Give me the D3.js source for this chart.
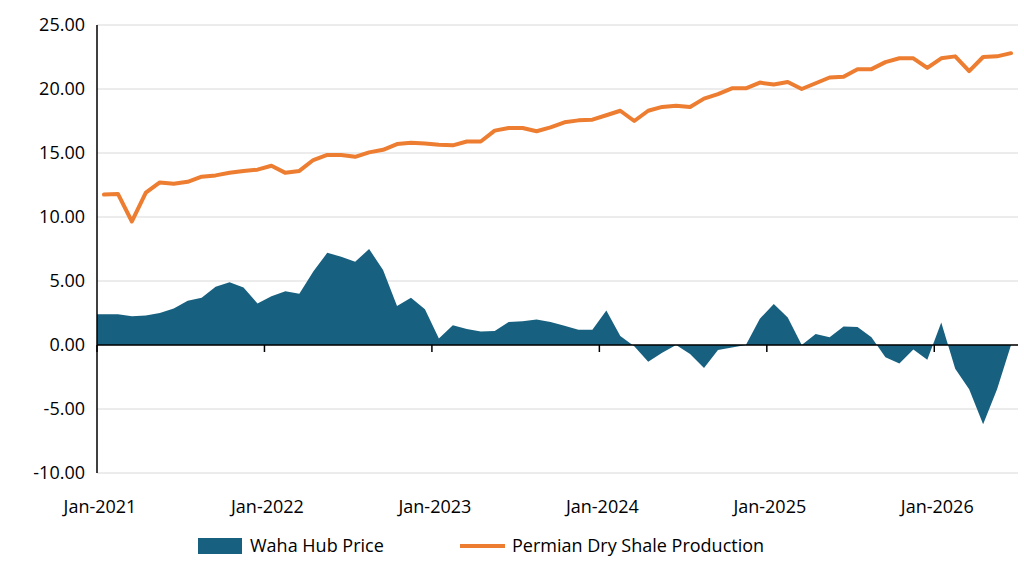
<!DOCTYPE html>
<html>
<head>
<meta charset="utf-8">
<script src="https://d3js.org/d3.v7.min.js"></script>
<style>
  body { margin: 0; background: #fff; font-family: "Open Sans", "Liberation Sans", sans-serif; }
</style>
</head>
<body>
<div id="chart"></div>
<script>
// monthly categories Jan-2021 .. Jun-2026
var months = [];
for (var y = 2021; y <= 2026; y++) {
    for (var m = 0; m < 12; m++) {
        if (y === 2026 && m > 5) break;
        months.push(new Date(y, m, 1));
    }
}

var wahaPrice = [
    2.4, 2.4, 2.25, 2.3, 2.5, 2.85, 3.45, 3.7, 4.55, 4.9, 4.5, 3.25,
    3.8, 4.2, 4.0, 5.75, 7.2, 6.9, 6.5, 7.5, 5.85, 3.05, 3.7, 2.8,
    0.5, 1.55, 1.25, 1.05, 1.1, 1.8, 1.85, 2.0, 1.8, 1.5, 1.2, 1.2,
    2.7, 0.7, -0.1, -1.3, -0.6, 0.0, -0.7, -1.8, -0.4, -0.2, 0.0, 2.05,
    3.2, 2.15, 0.0, 0.85, 0.6, 1.45, 1.4, 0.6, -0.95, -1.45, -0.35, -1.15,
    1.75, -1.85, -3.45, -6.2, -3.45, 0.0
];

var permianProd = [
    11.75, 9.65, 11.9, 12.7, 12.6, 12.75, 13.15, 13.25, 13.45, 13.6, 13.7, 14.0,
    13.45, 13.6, 14.45, 14.85, 14.85, 14.7, 15.05, 15.25, 15.7, 15.8, 15.75, 15.65,
    15.6, 15.9, 15.9, 16.75, 16.95, 16.95, 16.7, 17.0, 17.4, 17.55, 17.6, 17.95,
    18.3, 17.5, 18.3, 18.6, 18.7, 18.6, 19.25, 19.6, 20.05, 20.05, 20.5, 20.35,
    20.55, 20.0, 20.45, 20.9, 20.95, 21.55, 21.55, 22.1, 22.4, 22.4, 21.65, 22.4,
    22.55, 21.4, 22.5, 22.55, 22.8, 22.85
];
// fix: first orange point is Jan-2021 (11.75), Feb-2021 dip (9.65)
permianProd = [11.8].concat(permianProd.slice(0, permianProd.length - 1));
permianProd[0] = 11.75; permianProd[1] = 11.8; permianProd[2] = 9.65;

var yTicks = [25, 20, 15, 10, 5, 0, -5, -10];

var svgWidth = 1024, svgHeight = 569;
var margin = { top: 25, right: 6, bottom: 96, left: 97 };
var width = svgWidth - margin.left - margin.right;
var height = svgHeight - margin.top - margin.bottom;

var svg = d3.select("#chart").append("svg")
    .attr("width", svgWidth)
    .attr("height", svgHeight);

var g = svg.append("g")
    .attr("transform", `translate(${margin.left}, ${margin.top})`);

var x = d3.scaleBand().domain(months.map(String)).range([0, width]);
var y = d3.scaleLinear().domain([-10, 25]).range([height, 0]);
var cx = function (i) { return x(String(months[i])) + x.bandwidth() / 2; };

// gridlines
g.selectAll("line.grid").data(yTicks).enter().append("line")
    .attr("x1", 0).attr("x2", width)
    .attr("y1", d => y(d)).attr("y2", d => y(d))
    .attr("stroke", "#d9d9d9").attr("stroke-width", 1);

// area
var areaPts = wahaPrice.map((v, i) => [cx(i), v]);
areaPts.unshift([0, wahaPrice[0]]);
var area = d3.area().x(d => d[0]).y0(y(0)).y1(d => y(d[1]));
g.append("path").datum(areaPts)
    .attr("d", area).attr("fill", "#17607f");

// line
var line = d3.line().x((d, i) => cx(i)).y(d => y(d));
g.append("path").datum(permianProd)
    .attr("d", line).attr("fill", "none")
    .attr("stroke", "#ed7d31").attr("stroke-width", 4)
    .attr("stroke-linejoin", "round").attr("stroke-linecap", "round");

// y axis
g.append("line").attr("x1", 0).attr("x2", 0).attr("y1", 0).attr("y2", height)
    .attr("stroke", "#000").attr("stroke-width", 1.5);
g.selectAll("text.ylab").data(yTicks).enter().append("text")
    .attr("x", -12).attr("y", d => y(d)).attr("dy", "0.35em")
    .attr("text-anchor", "end").attr("font-size", 18).attr("fill", "#000")
    .text(d => d.toFixed(2));

// x axis at zero
g.append("line").attr("x1", 0).attr("x2", width).attr("y1", y(0)).attr("y2", y(0))
    .attr("stroke", "#000").attr("stroke-width", 1.5);
var janIdx = months.map((d, i) => i).filter(i => months[i].getMonth() === 0);
g.selectAll("line.xt").data(janIdx).enter().append("line")
    .attr("x1", i => x(String(months[i]))).attr("x2", i => x(String(months[i])))
    .attr("y1", y(0)).attr("y2", y(0) + 7)
    .attr("stroke", "#000").attr("stroke-width", 1.5);
g.selectAll("text.xlab").data(janIdx).enter().append("text")
    .attr("x", i => x(String(months[i])) + 3).attr("y", height + 40)
    .attr("text-anchor", "middle").attr("font-size", 18).attr("fill", "#000")
    .text(i => d3.timeFormat("%b-%Y")(months[i]));

// legend
var leg = svg.append("g").attr("transform", "translate(0, 546)");
leg.append("rect").attr("x", 198).attr("y", -8).attr("width", 44).attr("height", 16)
    .attr("fill", "#17607f");
leg.append("text").attr("x", 250).attr("y", 0).attr("dy", "0.35em")
    .attr("font-size", 18).text("Waha Hub Price");
leg.append("line").attr("x1", 460).attr("x2", 505).attr("y1", 0).attr("y2", 0)
    .attr("stroke", "#ed7d31").attr("stroke-width", 4);
leg.append("text").attr("x", 512).attr("y", 0).attr("dy", "0.35em")
    .attr("font-size", 18).text("Permian Dry Shale Production");
</script>
</body>
</html>
